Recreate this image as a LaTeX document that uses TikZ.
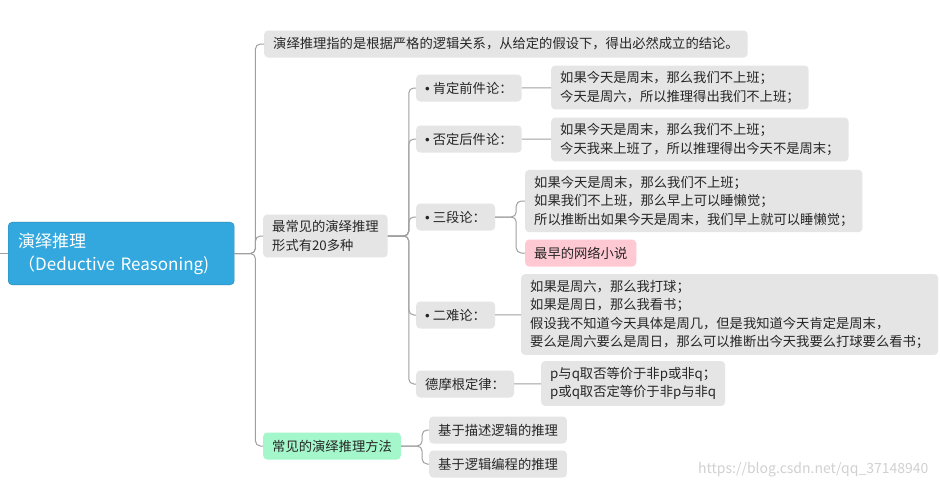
\documentclass[tikz,border=0pt]{standalone}
\usepackage{fontspec}
\setmainfont{Noto Sans CJK SC}
\newfontfamily\bulletfont{Liberation Sans}
\usepackage{tikz}
\usepackage{xcolor}
\definecolor{TopicBlue}{RGB}{50,168,222}
\definecolor{BoxGray}{RGB}{229,229,229}
\definecolor{LinkGray}{RGB}{160,160,160}
\definecolor{NotePink}{RGB}{255,201,211}
\definecolor{MethodGreen}{RGB}{164,247,203}
\usetikzlibrary{positioning, arrows.meta, calc}
\newcommand{\mapfont}{\fontsize{13.3}{18.5}\selectfont}
\newcommand{\bul}{{\bulletfont •} }

\begin{document}
\begin{tikzpicture}[x=1pt, y=-1pt]
    \tikzset{
        rootblock/.style={rectangle, rounded corners=4pt, draw=TopicBlue!80!black,
            thin, fill=TopicBlue, text=white, anchor=west, align=left,
            text width=206pt, inner xsep=10pt, inner ysep=10.5pt,
            font=\fontsize{17}{23}\selectfont},
        topic/.style={rectangle, rounded corners=4pt, fill=BoxGray, anchor=west,
            align=left, inner xsep=9pt, inner ysep=6pt, minimum height=27pt,
            text=black!85, font=\mapfont},
        note/.style={topic, fill=NotePink},
        method/.style={topic, fill=MethodGreen},
        link/.style={draw=LinkGray, line width=1pt, rounded corners=5pt}
    }
    \useasboundingbox (0,0) rectangle (940,488);
    \fill[white] (0,0) rectangle (940,488);
    % root and first level
    \coordinate (incoming) at (0,253.5);
    \node[rootblock] (root) at (8,253.5) {演绎推理\\（Deductive Reasoning)};
    \node[topic] (def) at (264,44) {演绎推理指的是根据严格的逻辑关系，从给定的假设下，得出必然成立的结论。};
    \node[topic] (forms) at (263,236) {最常见的演绎推理\\形式有20多种};
    \node[method] (methods) at (263,446) {常见的演绎推理方法};
    % forms
    \node[topic] (kq) at (416,88) {\bul 肯定前件论：};
    \node[topic] (fh) at (416,139) {\bul 否定后件论：};
    \node[topic] (sdl) at (416,217) {\bul 三段论：};
    \node[topic] (nd) at (416,315) {\bul 二难论：};
    \node[topic] (dm) at (416,384) {德摩根定律：};
    \node[topic] (kqex) at (551,87.5) {如果今天是周末，那么我们不上班；\\今天是周六，所以推理得出我们不上班；};
    \node[topic] (fhex) at (551,139.5) {如果今天是周末，那么我们不上班；\\今天我来上班了，所以推理得出今天不是周末；};
    \node[topic] (sdlex) at (525,201) {如果今天是周末，那么我们不上班；\\如果我们不上班，那么早上可以睡懒觉；\\所以推断出如果今天是周末，我们早上就可以睡懒觉；};
    \node[note] (sdlnote) at (525,253) {最早的网络小说};
    \node[topic] (ndex) at (521,314.5) {如果是周六，那么我打球；\\如果是周日，那么我看书；\\假设我不知道今天具体是周几，但是我知道今天肯定是周末，\\要么是周六要么是周日，那么可以推断出今天我要么打球要么看书；};
    \node[topic] (dmex) at (541,383.5) {p与q取否等价于非p或非q；\\p或q取否定等价于非p与非q};
    % methods
    \node[topic] (dlr) at (429,430) {基于描述逻辑的推理};
    \node[topic] (lpr) at (429,464) {基于逻辑编程的推理};
    \node[anchor=east, text=black!18, font=\fontsize{14}{16}\selectfont] (mark) at (932,470) {https://blog.csdn.net/qq\_37148940};
    % connectors
    \draw[link] (incoming) -- (root.west);
    \foreach \child in {def, forms, methods}
        \draw[link] (root.east) -- ++(21,0) |- (\child.west);
    \foreach \child in {kq, fh, sdl, nd, dm}
        \draw[link] (forms.east) -- ++(21,0) |- (\child.west);
    \draw[link] (kq) -- (kqex);
    \draw[link] (fh) -- (fhex);
    \draw[link] (sdl.east) -- ++(21,0) |- (sdlex.west);
    \draw[link] (sdl.east) -- ++(21,0) |- (sdlnote.west);
    \draw[link] (nd) -- (ndex);
    \draw[link] (dm) -- (dmex);
    \draw[link] (methods.east) -- ++(21,0) |- (dlr.west);
    \draw[link] (methods.east) -- ++(21,0) |- (lpr.west);
\end{tikzpicture}
\end{document}
